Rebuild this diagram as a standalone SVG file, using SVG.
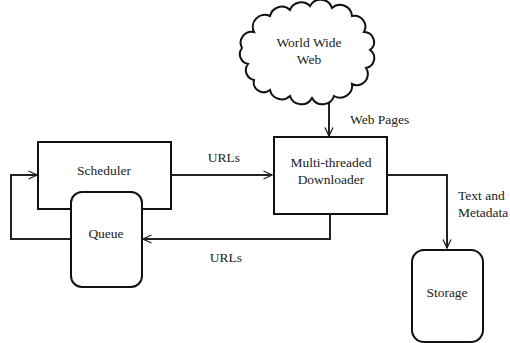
<svg xmlns="http://www.w3.org/2000/svg" width="510" height="343" viewBox="0 0 510 343">
<defs>
<marker id="arr" viewBox="0 0 10 10" refX="9.5" refY="5" markerWidth="10" markerHeight="10" markerUnits="userSpaceOnUse" orient="auto">
<path d="M1,1 L9.5,5 L1,9" fill="none" stroke="#222" stroke-width="1.3"/>
</marker>
<style>
.box{fill:#fff;stroke:#111;stroke-width:2}
.ln{fill:none;stroke:#222;stroke-width:2}
</style>
</defs>
<rect width="510" height="343" fill="#fff"/>
<g font-family="Liberation Serif, DejaVu Serif, serif" font-size="13.5" fill="#222">
<g id="connectors">
<polyline class="ln" points="71,239 11,239 11,175 37,175" marker-end="url(#arr)"/>
<line class="ln" x1="171" y1="175" x2="272" y2="175" marker-end="url(#arr)"/>
<polyline class="ln" points="330,214 330,239 143,239" marker-end="url(#arr)"/>
<polyline class="ln" points="387,175 447,175 447,248" marker-end="url(#arr)"/>
<line class="ln" x1="329" y1="100" x2="329" y2="136" marker-end="url(#arr)"/>
<text x="224" y="162" text-anchor="middle">URLs</text>
<text x="226" y="262" text-anchor="middle">URLs</text>
<text x="350" y="124">Web Pages</text>
<text x="458" y="200">Text and</text>
<text x="458" y="217">Metadata</text>
</g>
<g id="scheduler">
<rect class="box" x="38" y="142" width="133" height="67"/>
<text x="104" y="175" text-anchor="middle">Scheduler</text>
</g>
<g id="queue">
<rect class="box" x="71" y="192" width="71" height="95" rx="11"/>
<text x="106" y="238" text-anchor="middle">Queue</text>
</g>
<g id="web">
<path class="box" d="M254,80 A10,10 0 0 1 248,64 A10,10 0 0 1 242,48 A11,11 0 0 1 254,32 A12,12 0 0 1 270,16 A12,12 0 0 1 290,10 A12,12 0 0 1 310,6 A12,12 0 0 1 332,8 A12,12 0 0 1 352,16 A11,11 0 0 1 364,32 A10,10 0 0 1 370,50 A10,10 0 0 1 366,68 A11,11 0 0 1 352,84 A12,12 0 0 1 334,96 A12,12 0 0 1 312,98 A12,12 0 0 1 290,96 A12,12 0 0 1 270,90 A10,10 0 0 1 254,80 Z"/>
<text x="309" y="47" text-anchor="middle">World Wide</text>
<text x="309" y="64" text-anchor="middle">Web</text>
</g>
<g id="downloader">
<rect class="box" x="274" y="137" width="113" height="77"/>
<text x="331" y="167" text-anchor="middle">Multi-threaded</text>
<text x="331" y="184" text-anchor="middle">Downloader</text>
</g>
<g id="storage">
<rect class="box" x="412" y="250" width="71" height="92" rx="12"/>
<text x="447" y="297" text-anchor="middle">Storage</text>
</g>
</g>
</svg>
